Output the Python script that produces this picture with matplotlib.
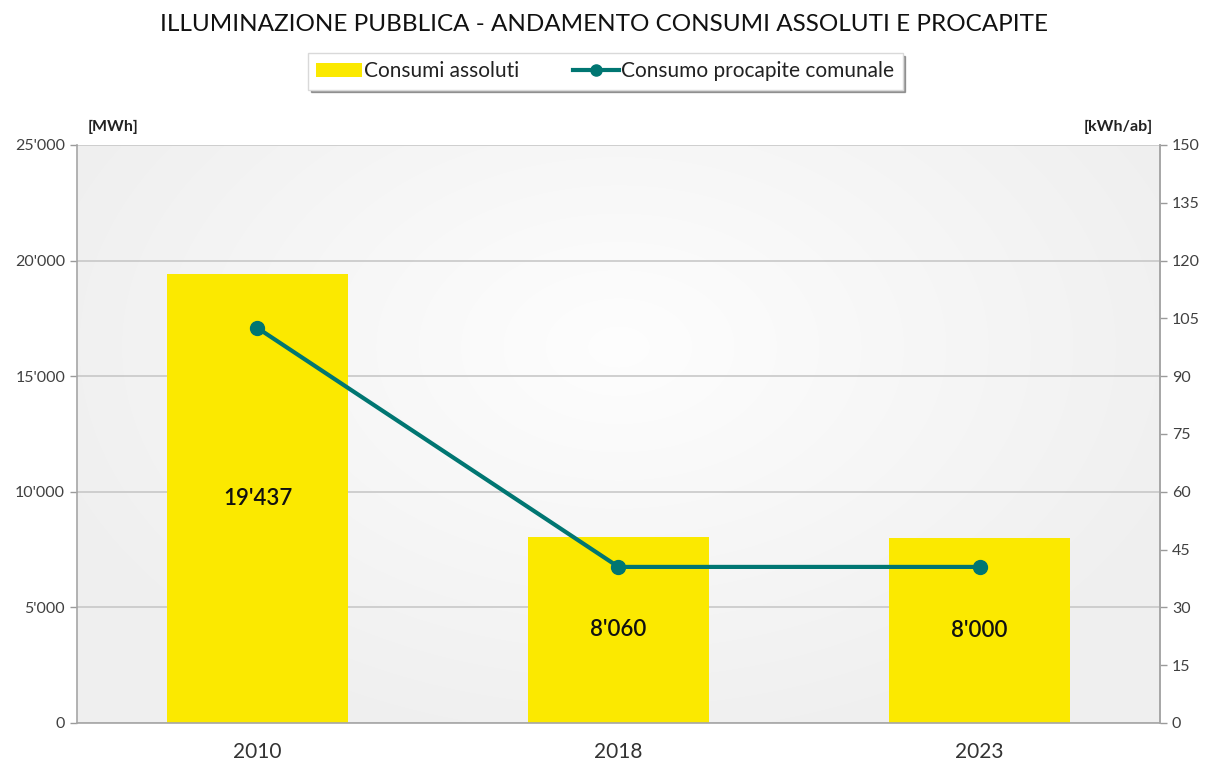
import matplotlib
matplotlib.use("Agg")
import matplotlib.pyplot as plt
import numpy as np
from matplotlib.ticker import FuncFormatter, MultipleLocator
from matplotlib.patches import Patch
from matplotlib.lines import Line2D

plt.rcParams['font.family'] = ['Lato', 'DejaVu Sans']

years = ["2010", "2018", "2023"]
consumi_assoluti = [19437, 8060, 8000]
consumo_procapite = [102.5, 40.5, 40.5]
bar_labels = ["19'437", "8'060", "8'000"]

title = "ILLUMINAZIONE PUBBLICA - ANDAMENTO CONSUMI ASSOLUTI E PROCAPITE"
bar_color = "#FBE900"
line_color = "#007672"

fig = plt.figure(figsize=(12.08, 7.67), dpi=100)
ax = fig.add_axes([0.0637, 0.0574, 0.8966, 0.7536])

# gradient background
ny, nx = 200, 300
yy, xx = np.mgrid[0:1:ny*1j, 0:1:nx*1j]
r = np.sqrt(((xx - 0.5) / 0.6) ** 2 + ((yy - 0.65) / 0.75) ** 2)
bg = np.clip(0.995 - 0.06 * r, 0.94, 1.0)
ax.imshow(np.dstack([bg, bg, bg]), extent=[-0.5, 2.5, 0, 25000], origin='lower',
          aspect='auto', zorder=0, interpolation='bicubic')

x = np.arange(len(years))
ax.set_xlim(-0.5, 2.5)
ax.set_ylim(0, 25000)
ax.yaxis.set_major_locator(MultipleLocator(5000))
ax.grid(axis='y', color='#C8C8C8', linewidth=1.2, zorder=1)
ax.set_axisbelow(True)
bars = ax.bar(x, consumi_assoluti, width=0.5, color=bar_color, zorder=2)
for xi, v, lab in zip(x, consumi_assoluti, bar_labels):
    ax.text(xi, v / 2, lab, ha='center', va='center', fontsize=16, fontweight='semibold',
            color='#111111', zorder=5)

fmt = FuncFormatter(lambda v, p: f"{int(v):,}".replace(",", "'"))
ax.yaxis.set_major_formatter(fmt)
ax.set_xticks(x)
ax.set_xticklabels(years, fontsize=15, color='#333333')
ax.tick_params(axis='x', length=0, pad=14)
ax.tick_params(axis='y', labelsize=11.5, colors='#9A9A9A', labelcolor='#404040', length=5, width=1)
for s in ['top']:
    ax.spines[s].set_visible(False)
for s in ['left', 'bottom', 'right']:
    ax.spines[s].set_color('#A6A6A6')
    ax.spines[s].set_linewidth(1.2)

ax2 = ax.twinx()
ax2.set_ylim(0, 150)
ax2.yaxis.set_major_locator(MultipleLocator(15))
ax2.plot(x, consumo_procapite, color=line_color, linewidth=3, marker='o', markersize=10, zorder=4)
ax2.tick_params(axis='y', labelsize=11.5, colors='#9A9A9A', labelcolor='#404040', length=5, width=1)
for s in ['top', 'left', 'bottom']:
    ax2.spines[s].set_visible(False)
ax2.spines['right'].set_color('#A6A6A6')
ax2.spines['right'].set_linewidth(1.2)

fig.text(0.5, 0.968, title, ha='center', va='center', fontsize=17.5, color='#111111')
fig.text(0.094, 0.834, "[MWh]", ha='center', va='center', fontsize=11.5, fontweight='bold', color='#222222')
fig.text(0.926, 0.834, "[kWh/ab]", ha='center', va='center', fontsize=11.5, fontweight='bold', color='#222222')

handles = [Patch(facecolor=bar_color, edgecolor='none'),
           Line2D([0], [0], color=line_color, linewidth=3, marker='o', markersize=8)]
leg = fig.legend(handles, ["Consumi assoluti", "Consumo procapite comunale"],
                 loc='center', bbox_to_anchor=(0.501, 0.907), ncol=2, fontsize=15,
                 frameon=True, fancybox=False, shadow=True, handlelength=2.2,
                 handletextpad=0.1, columnspacing=2.6, borderpad=0.4, borderaxespad=0)
leg.get_frame().set_edgecolor('#D9D9D9')
leg.get_frame().set_linewidth(1)
for t in leg.get_texts():
    t.set_color('#222222')

fig.savefig("out.png", dpi=100)
